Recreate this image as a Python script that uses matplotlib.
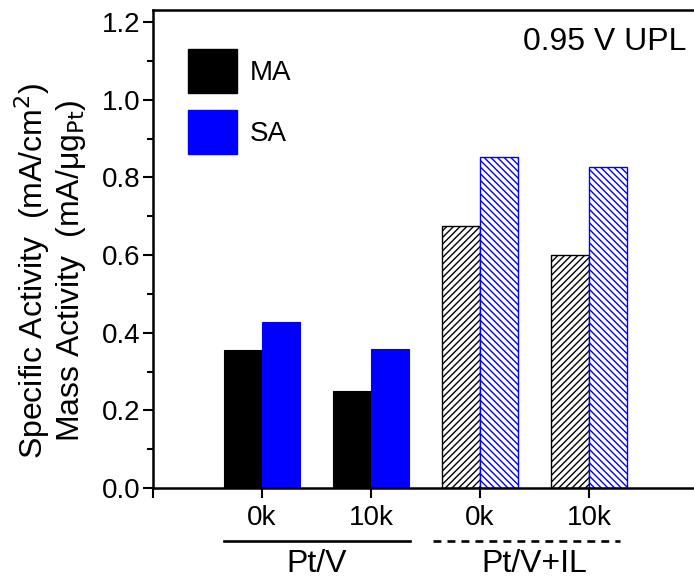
import matplotlib
matplotlib.use("Agg")
import matplotlib.pyplot as plt
from matplotlib.patches import Patch
import numpy as np

plt.rcParams["font.family"] = ["Liberation Sans", "DejaVu Sans"]
plt.rcParams["hatch.linewidth"] = 1.0

samples = ["Pt/V", "Pt/V", "Pt/V+IL", "Pt/V+IL"]
cycles = ["0k", "10k", "0k", "10k"]
ma = [0.355, 0.250, 0.675, 0.600]
sa = [0.428, 0.358, 0.853, 0.827]
groups = ["Pt/V", "Pt/V+IL"]

fig = plt.figure(figsize=(6.94, 5.8), dpi=100)
ax = fig.add_axes([0.2205, 0.1586, 0.7853, 0.8242])

x = np.arange(1, len(cycles) + 1)
w = 0.35
for i in range(len(x)):
    if samples[i] == "Pt/V":
        ax.bar(x[i] - w/2, ma[i], w, color="black", edgecolor="black", linewidth=0.8)
        ax.bar(x[i] + w/2, sa[i], w, color="#0000ff", edgecolor="#0000ff", linewidth=0.8)
    else:
        ax.bar(x[i] - w/2, ma[i], w, color="white", edgecolor="black", hatch="/////", linewidth=1.0)
        ax.bar(x[i] + w/2, sa[i], w, color="white", edgecolor="#0000ff", hatch="\\\\\\\\\\", linewidth=1.0)

ax.set_xlim(0, 5)
ax.set_ylim(0, 1.231)
ax.set_yticks(np.arange(0, 1.21, 0.2))
ax.set_yticks(np.arange(0.1, 1.2, 0.2), minor=True)
ax.set_xticks([0] + list(x))
ax.set_xticklabels([""] + cycles)
ax.tick_params(axis="both", which="major", direction="out", length=7, width=1.5, labelsize=20)
ax.tick_params(axis="y", which="major", pad=2)
ax.tick_params(axis="x", which="major", pad=5)
ax.tick_params(axis="y", which="minor", direction="out", length=4, width=1.5)
for s in ["left", "bottom", "top"]:
    ax.spines[s].set_linewidth(1.8)
ax.spines["right"].set_visible(False)

ax.set_ylabel("Specific Activity  (mA/cm$^2$)\nMass Activity  (mA/\u03bcg$_{\\rm Pt}$)", fontsize=23, linespacing=1.1)
ax.yaxis.set_label_coords(-0.119, 0.454)

# group underlines and names below the cycle labels
trans = ax.get_xaxis_transform()
ax.plot([0.65, 2.36], [-0.111, -0.111], color="black", lw=1.9, transform=trans, clip_on=False)
ax.plot([2.57, 4.28], [-0.111, -0.111], color="black", lw=1.9, ls=(0, (3.0, 2.3)), transform=trans, clip_on=False)
ax.text((x[0] + x[1]) / 2, -0.176, groups[0], transform=trans, ha="center", va="baseline", fontsize=23)
ax.text((x[2] + x[3]) / 2, -0.176, groups[1], transform=trans, ha="center", va="baseline", fontsize=23)

ax.text(0.978, 0.933, "0.95 V UPL", transform=ax.transAxes, ha="right", va="center", fontsize=23)

handles = [Patch(facecolor="black", edgecolor="black", label="MA"),
           Patch(facecolor="#0000ff", edgecolor="#0000ff", label="SA")]
ax.legend(handles=handles, loc="upper left", bbox_to_anchor=(0.064, 0.918), frameon=False,
          borderpad=0, borderaxespad=0, fontsize=20, handlelength=1.76, handleheight=2.06,
          labelspacing=0.6, handletextpad=0.47)

fig.savefig("out.png", dpi=100)
